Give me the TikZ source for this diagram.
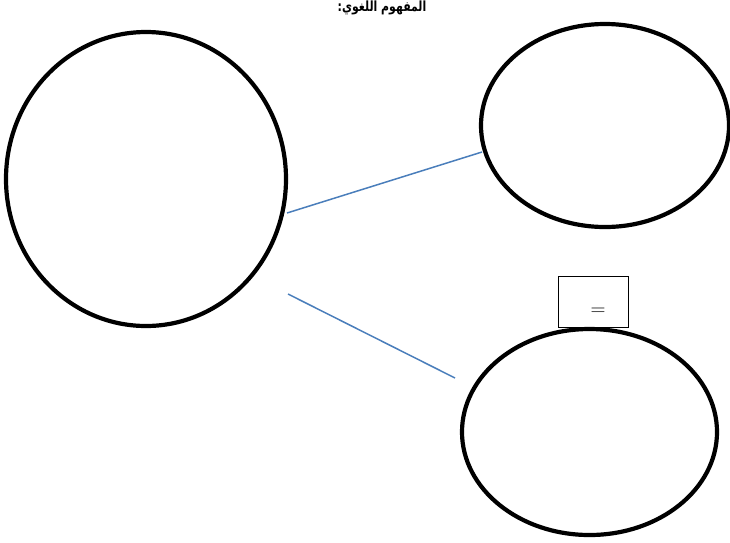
\documentclass[tikz,border=0pt]{standalone}
\usepackage{fontspec}
\newfontfamily\arabicfont[Script=Arabic]{DejaVu Sans}
\TeXXeTstate=1
\definecolor{linkblue}{HTML}{4A7EBB}
\begin{document}
\begin{tikzpicture}[x=1pt,y=-1pt,
  bub/.style={line width=4.2pt},
  link/.style={draw=linkblue,line width=1.5pt},
  eqbox/.style={draw=black,line width=0.8pt,minimum width=70pt,minimum height=51pt,inner sep=0pt}]
\useasboundingbox (0,0) rectangle (730,542);
\draw[bub] (146,179) ellipse [x radius=140, y radius=147];
\draw[bub] (605,125.5) ellipse [x radius=124, y radius=101.5];
\draw[bub] (589.5,432) ellipse [x radius=127.5, y radius=103];
\node[eqbox] (box) at (593,301.5) {};
\node[font=\fontsize{20}{22}\selectfont,inner sep=0pt] (eq) at (598,311.5) {$=$};
\coordinate (a1) at (287,213);
\coordinate (b1) at (482,152);
\coordinate (a2) at (288,294);
\coordinate (b2) at (455,378);
\draw[link] (a1) -- (b1);
\draw[link] (a2) -- (b2);
\node[anchor=base,xscale=0.78,font=\arabicfont\bfseries\fontsize{14}{17}\selectfont,inner sep=0pt] (title) at (382,11) {\beginR المفهوم اللغوي:\endR};
\end{tikzpicture}
\end{document}
